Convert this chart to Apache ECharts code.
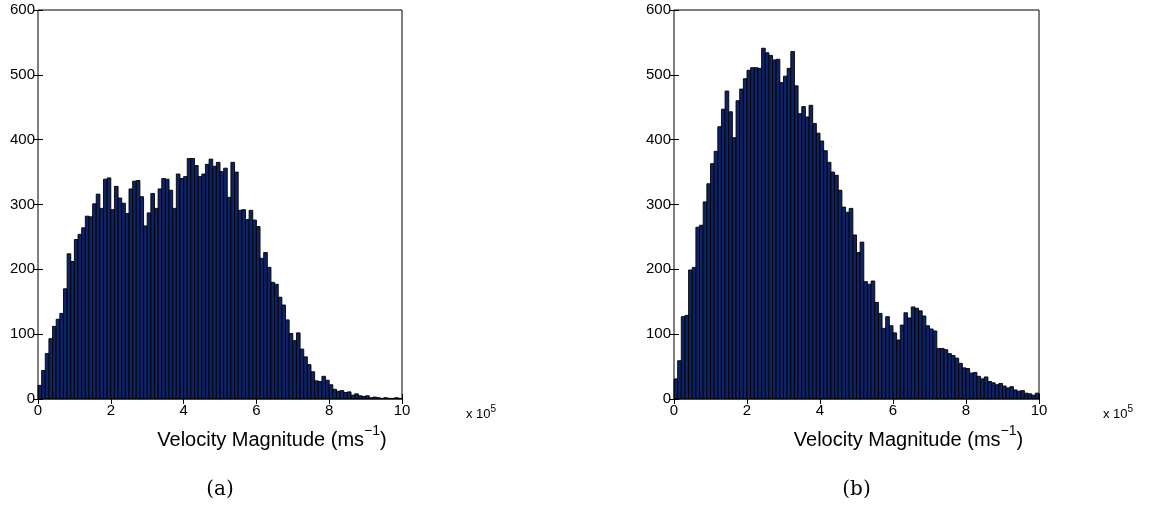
<!DOCTYPE html>
<html>
<head>
<meta charset="utf-8">
<script src="https://cdn.jsdelivr.net/npm/echarts@6/dist/echarts.min.js"></script>
<style>
html,body{margin:0;padding:0;background:#fff;}
#chart{width:1153px;height:512px;}
</style>
</head>
<body>
<div id="chart"></div>
<script>
// Histogram bin width (units of 10^5 m/s)
const binWidth = 0.1;
// Panel (a) counts, 100 bins over 0..10
const countsA = [21,44,70,93,112,123,132,170,224,212,246,254,264,282,281,301,316,294,339,341,
  292,328,310,302,286,324,336,337,312,267,287,317,294,324,340,339,322,294,347,340,
  343,371,371,360,343,347,362,370,359,365,351,356,311,365,350,291,292,277,291,276,
  266,217,226,203,180,177,157,145,122,101,90,102,77,65,53,42,28,27,35,29,
  22,15,12,13,10,11,6,8,5,4,5,2,3,2,1,2,1,1,2,1];
// Panel (b) counts, 100 bins over 0..10
const countsB = [31,59,127,129,199,203,265,268,304,332,363,382,420,447,475,443,403,460,478,494,
  507,511,511,510,541,534,530,523,524,488,498,510,536,483,440,451,435,453,425,410,
  398,383,365,350,345,322,296,288,294,253,226,242,181,177,182,149,132,109,127,113,
  102,91,114,133,125,142,140,136,128,113,108,105,78,78,76,70,67,63,55,48,
  47,40,41,35,31,34,27,25,22,24,20,17,19,14,12,13,9,8,6,9];
const xTicks = [0, 2, 4, 6, 8, 10];
const yTicks = [0, 100, 200, 300, 400, 500, 600];
const panelLabels = ['(a)', '(b)'];
const xTitle = ['Velocity Magnitude (ms', '\u22121', ')'];

function toBins(counts){
  return counts.map((c,i)=>[i*binWidth, (i+1)*binWidth, c]);
}

const chart = echarts.init(document.getElementById('chart'), null, {renderer:'canvas'});
const FONT = 'Liberation Sans';
const grids = [
  {left:38, top:10, width:364, height:389},
  {left:674, top:10, width:365, height:389}
];
const xAxes = [], yAxes = [], series = [];
const xInterval = xTicks[1]-xTicks[0];
const yInterval = yTicks[1]-yTicks[0];
[countsA, countsB].forEach((counts, g)=>{
  xAxes.push({
    type:'value', gridIndex:g, position:'bottom',
    min:xTicks[0], max:xTicks[xTicks.length-1], interval:xInterval,
    axisLine:{show:false}, splitLine:{show:false},
    axisTick:{show:true, inside:true, length:5, lineStyle:{color:'#000'}},
    axisLabel:{show:true, color:'#000', fontFamily:FONT, fontSize:15, margin:4}
  });
  xAxes.push({
    type:'value', gridIndex:g, position:'top',
    min:xTicks[0], max:xTicks[xTicks.length-1], interval:xInterval,
    axisLine:{show:false}, splitLine:{show:false},
    axisTick:{show:true, inside:true, length:5, lineStyle:{color:'#000'}},
    axisLabel:{show:false}
  });
  yAxes.push({
    type:'value', gridIndex:g, position:'left',
    min:yTicks[0], max:yTicks[yTicks.length-1], interval:yInterval,
    axisLine:{show:false}, splitLine:{show:false},
    axisTick:{show:true, inside:true, length:5, lineStyle:{color:'#000'}},
    axisLabel:{show:true, color:'#000', fontFamily:FONT, fontSize:15, margin:3}
  });
  yAxes.push({
    type:'value', gridIndex:g, position:'right',
    min:yTicks[0], max:yTicks[yTicks.length-1], interval:yInterval,
    axisLine:{show:false}, splitLine:{show:false},
    axisTick:{show:true, inside:true, length:5, lineStyle:{color:'#000'}},
    axisLabel:{show:false}
  });
  series.push({
    type:'custom', xAxisIndex:g*2, yAxisIndex:g*2,
    data:toBins(counts),
    encode:{x:[0,1], y:2},
    renderItem:function(params, api){
      const p0 = api.coord([api.value(0), api.value(2)]);
      const p1 = api.coord([api.value(1), 0]);
      return {
        type:'rect',
        shape:{x:p0[0], y:p0[1], width:p1[0]-p0[0], height:p1[1]-p0[1]},
        style:{fill:'#0e2266', stroke:'#000', lineWidth:0.9}
      };
    }
  });
});

const graphics = [];
grids.forEach((gr, g)=>{
  graphics.push({
    type:'rect', silent:true, z:100,
    shape:{x:gr.left, y:gr.top, width:gr.width, height:gr.height},
    style:{fill:'none', stroke:'#000', lineWidth:1}
  });
  graphics.push({
    type:'text', z:100,
    x:gr.left+gr.width/2+52, y:437,
    style:{
      text:'{a|'+xTitle[0]+'}{s|'+xTitle[1]+'}{a|'+xTitle[2]+'}',
      align:'center', verticalAlign:'middle',
      rich:{
        a:{fontFamily:FONT, fontSize:20, fill:'#000', lineHeight:26, verticalAlign:'bottom'},
        s:{fontFamily:FONT, fontSize:14, fill:'#000', lineHeight:26, verticalAlign:'top'}
      }
    }
  });
  graphics.push({
    type:'text', z:100,
    x:gr.left+gr.width+64, y:gr.top+gr.height+5,
    style:{
      text:'{a|x 10}{s|5}',
      rich:{
        a:{fontFamily:FONT, fontSize:13, fill:'#000', lineHeight:17, verticalAlign:'bottom'},
        s:{fontFamily:FONT, fontSize:10, fill:'#000', lineHeight:17, verticalAlign:'top'}
      }
    }
  });
  graphics.push({
    type:'text', z:100,
    x:gr.left+gr.width/2, y:490,
    style:{text:panelLabels[g], fontFamily:'DejaVu Serif', fontSize:20, fill:'#000', align:'center', verticalAlign:'middle'}
  });
});

chart.setOption({
  animation:false,
  grid:grids,
  xAxis:xAxes,
  yAxis:yAxes,
  series:series,
  graphic:graphics
});
</script>
</body>
</html>
